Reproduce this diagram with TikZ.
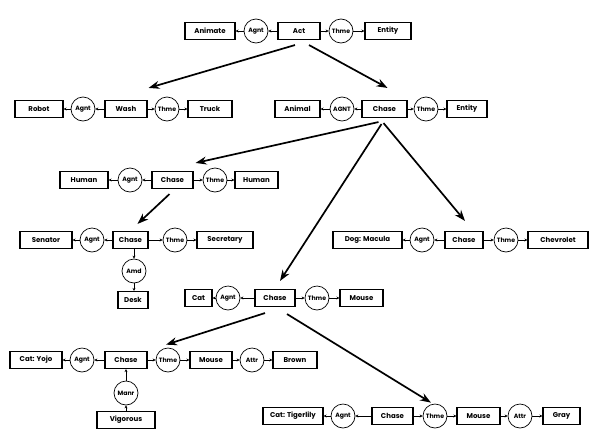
\documentclass[tikz,border=0pt]{standalone}
\usepackage{fontspec}
\setmainfont{Poppins}
\usetikzlibrary{arrows.meta,calc}
\tikzset{
  cbox/.style={draw,line width=1.1pt,minimum height=17pt,inner sep=1pt,font=\fontsize{7}{8}\selectfont\bfseries},
  rel/.style={draw,circle,line width=0.7pt,minimum size=24pt,inner sep=0pt,font=\fontsize{6.2}{7}\selectfont\bfseries},
  lk/.style={line width=0.6pt,-{Stealth[length=3pt,width=3pt]}},
  big/.style={line width=1.7pt,-{Stealth[length=11pt,width=8pt]}}
}
\begin{document}
\begin{tikzpicture}[x=1pt,y=-1pt]
\useasboundingbox (0,0) rectangle (599,442);
% Row 1
\node[cbox,minimum width=50pt] (animate) at (210,31) {Animate};
\node[rel] (agnt1) at (256,31) {Agnt};
\node[cbox,minimum width=42pt] (act) at (299,31) {Act};
\node[rel] (thme1) at (341,31) {Thme};
\node[cbox,minimum width=46pt] (entity1) at (388,31) {Entity};
\draw[lk] (agnt1) -- (animate);
\draw[lk] (act) -- (agnt1);
\draw[lk] (act) -- (thme1);
\draw[lk] (thme1) -- (entity1);
% Row 2 left
\node[cbox,minimum width=48pt] (robot) at (39,109) {Robot};
\node[rel] (agnt2) at (83,109) {Agnt};
\node[cbox,minimum width=42pt] (wash) at (126,109) {Wash};
\node[rel] (thme2) at (167,109) {Thme};
\node[cbox,minimum width=44pt] (truck) at (210,109) {Truck};
\draw[lk] (agnt2) -- (robot);
\draw[lk] (wash) -- (agnt2);
\draw[lk] (wash) -- (thme2);
\draw[lk] (thme2) -- (truck);
% Row 2 right
\node[cbox,minimum width=45pt] (animal) at (297.5,109) {Animal};
\node[rel] (agnt3) at (342,109) {AGNT};
\node[cbox,minimum width=45pt] (chase2) at (384.5,109) {Chase};
\node[rel] (thme3) at (426,109) {Thme};
\node[cbox,minimum width=40pt] (entity2) at (467,109) {Entity};
\draw[lk] (agnt3) -- (animal);
\draw[lk] (chase2) -- (agnt3);
\draw[lk] (chase2) -- (thme3);
\draw[lk] (thme3) -- (entity2);
% Row 3
\node[cbox,minimum width=48pt] (human1) at (84,180) {Human};
\node[rel] (agnt4) at (130,180) {Agnt};
\node[cbox,minimum width=41pt] (chase3) at (172.5,180) {Chase};
\node[rel] (thme4) at (215,180) {Thme};
\node[cbox,minimum width=43pt] (human2) at (256.5,180) {Human};
\draw[lk] (agnt4) -- (human1);
\draw[lk] (chase3) -- (agnt4);
\draw[lk] (chase3) -- (thme4);
\draw[lk] (thme4) -- (human2);
% Row 4 left
\node[cbox,minimum width=52pt] (senator) at (46,240) {Senator};
\node[rel] (agnt5) at (92,240) {Agnt};
\node[cbox,minimum width=35pt] (chase4) at (130.5,240) {Chase};
\node[rel] (thme5) at (175,240) {Thme};
\node[cbox,minimum width=56pt] (secretary) at (225,240) {Secretary};
\node[rel] (amd) at (134,271) {Amd};
\node[cbox,minimum width=30pt] (desk) at (133,300) {Desk};
\draw[lk] (agnt5) -- (senator);
\draw[lk] (chase4) -- (agnt5);
\draw[lk] (chase4) -- (thme5);
\draw[lk] (thme5) -- (secretary);
\draw[lk] (chase4.south -| amd) -- (amd);
\draw[lk] (amd) -- (desk.north -| amd);
% Row 4 right
\node[cbox,minimum width=69pt] (dog) at (367.5,240) {Dog: Macula};
\node[rel] (agnt6) at (422,240) {Agnt};
\node[cbox,minimum width=38pt] (chase5) at (464,240) {Chase};
\node[rel] (thme6) at (506,240) {Thme};
\node[cbox,minimum width=60pt] (chevrolet) at (558,240) {Chevrolet};
\draw[lk] (agnt6) -- (dog);
\draw[lk] (chase5) -- (agnt6);
\draw[lk] (chase5) -- (thme6);
\draw[lk] (thme6) -- (chevrolet);
% Row 5
\node[cbox,minimum width=27pt] (cat) at (198.5,298) {Cat};
\node[rel] (agnt7) at (228,298) {Agnt};
\node[cbox,minimum width=40pt] (chase6) at (275,298) {Chase};
\node[rel] (thme7) at (317,298) {Thme};
\node[cbox,minimum width=43pt] (mouse1) at (361.5,298) {Mouse};
\draw[lk] (agnt7) -- (cat);
\draw[lk] (chase6) -- (agnt7);
\draw[lk] (chase6) -- (thme7);
\draw[lk] (thme7) -- (mouse1);
% Row 6
\node[cbox,minimum width=52pt] (yojo) at (36,360) {Cat: Yojo};
\node[rel] (agnt8) at (82,360) {Agnt};
\node[cbox,minimum width=42pt] (chase7) at (126,360) {Chase};
\node[rel] (thme8) at (168,360) {Thme};
\node[cbox,minimum width=42pt] (mouse2) at (211,360) {Mouse};
\node[rel] (attr1) at (252,360) {Attr};
\node[cbox,minimum width=44pt] (brown) at (295,360) {Brown};
\node[rel] (manr) at (126,393) {Manr};
\node[cbox,minimum width=58pt] (vigorous) at (126,420) {Vigorous};
\draw[lk] (agnt8) -- (yojo);
\draw[lk] (chase7) -- (agnt8);
\draw[lk] (chase7) -- (thme8);
\draw[lk] (thme8) -- (mouse2);
\draw[lk] (mouse2) -- (attr1);
\draw[lk] (attr1) -- (brown);
\draw[lk] (manr) -- (chase7);
\draw[lk] (vigorous) -- (manr);
% Row 7
\node[cbox,minimum width=60pt] (tiger) at (293,416) {Cat: Tigerlily};
\node[rel] (agnt9) at (343,416) {Agnt};
\node[cbox,minimum width=41pt] (chase8) at (392.5,416) {Chase};
\node[rel] (thme9) at (435,416) {Thme};
\node[cbox,minimum width=43pt] (mouse3) at (478.5,416) {Mouse};
\node[rel] (attr2) at (520,416) {Attr};
\node[cbox,minimum width=37pt] (gray) at (561.5,416) {Gray};
\draw[lk] (agnt9) -- (tiger);
\draw[lk] (chase8) -- (agnt9);
\draw[lk] (chase8) -- (thme9);
\draw[lk] (thme9) -- (mouse3);
\draw[lk] (mouse3) -- (attr2);
\draw[lk] (attr2) -- (gray);
% Big arrows
\draw[big] ($(act.south)+(-4,5)$) -- ($(wash.north east)+(1,-12)$);
\draw[big] ($(act.south)+(10,5)$) -- ($(chase2.north)+(3,-12)$);
\draw[big] ($(chase2.south)+(-6,4)$) -- ($(chase3.north east)+(2,-8)$);
\draw[big] ($(chase2.south)+(-1,5)$) -- ($(chase5.north)+(1,-10)$);
\draw[big] ($(chase2.south)+(-3,6)$) -- ($(chase6.north)+(5,-8)$);
\draw[big] ($(chase3.south)+(-3,5)$) -- ($(chase4.north)+(7,-7)$);
\draw[big] ($(chase6.south)+(-10,6)$) -- ($(thme8.north)+(-2,-3)$);
\draw[big] ($(chase6.south)+(12,7)$) -- ($(thme9.north)+(-4,-1)$);
\end{tikzpicture}
\end{document}
